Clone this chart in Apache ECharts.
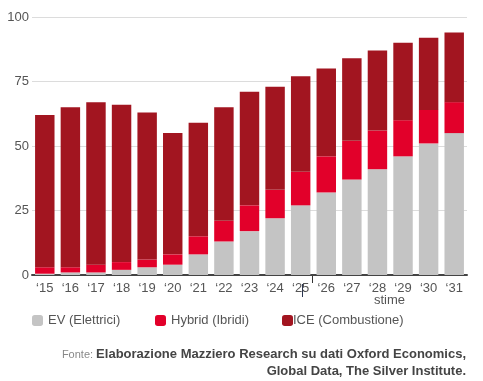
<!DOCTYPE html>
<html>
<head>
<meta charset="utf-8">
<style>html,body{margin:0;padding:0;background:#fff;}#c{width:483px;height:381px;}</style>
<script src="https://cdn.jsdelivr.net/npm/echarts@6/dist/echarts.min.js"></script>
</head>
<body>
<div id="c"></div>
<script>
const categories = ['‘15','‘16','‘17','‘18','‘19','‘20','‘21','‘22','‘23','‘24','‘25','‘26','‘27','‘28','‘29','‘30','‘31'];
const ev     = [0.5, 1, 1, 2, 3, 4, 8, 13, 17, 22, 27, 32, 37, 41, 46, 51, 55];
const hybrid = [2.5, 2, 3, 3, 3, 4, 7, 8, 10, 11, 13, 14, 15, 15, 14, 13, 12];
const ice    = [59, 62, 63, 61, 57, 47, 44, 44, 44, 40, 37, 34, 32, 31, 30, 28, 27];
const yTicks = [0, 25, 50, 75, 100];
const lastActual = '‘25';

const FONT = 'Liberation Sans';
const chart = echarts.init(document.getElementById('c'));
const legendBase = {
  itemWidth: 11, itemHeight: 11, top: 309,
  textStyle: {fontFamily: FONT, fontSize: 13, color: '#555'}
};
chart.setOption({
  animation: false,
  grid: {left: 32, right: 16, top: 17, bottom: 106},
  legend: [
    Object.assign({}, legendBase, {data: ['EV (Elettrici)'], left: 27}),
    Object.assign({}, legendBase, {data: ['Hybrid (Ibridi)'], left: 150}),
    Object.assign({}, legendBase, {data: ['ICE (Combustione)'], left: 277,
      textStyle: {fontFamily: FONT, fontSize: 13, color: '#555', padding: [0, 0, 0, -5]}})
  ],
  xAxis: {
    type: 'category', data: categories,
    axisLine: {lineStyle: {color: '#444', width: 2}},
    axisTick: {show: false},
    axisLabel: {fontFamily: FONT, fontSize: 13, color: '#555', margin: 7}
  },
  yAxis: {
    type: 'value', min: yTicks[0], max: yTicks[yTicks.length - 1], interval: 25,
    axisLine: {show: false}, axisTick: {show: false},
    splitLine: {lineStyle: {color: '#dcdcdc', width: 1}},
    axisLabel: {fontFamily: FONT, fontSize: 13, color: '#555', margin: 3}
  },
  series: [
    {name: 'EV (Elettrici)', type: 'bar', stack: 't', data: ev, barWidth: '76%', itemStyle: {color: '#c4c4c4'}},
    {name: 'Hybrid (Ibridi)', type: 'bar', stack: 't', data: hybrid, itemStyle: {color: '#e2002a'}},
    {name: 'ICE (Combustione)', type: 'bar', stack: 't', data: ice, itemStyle: {color: '#a21520'}}
  ]
});

// separator tick between actual and estimated years, placed via the axis scale
const i = categories.indexOf(lastActual);
const xa = chart.convertToPixel({xAxisIndex: 0}, categories[i]);
const xb = chart.convertToPixel({xAxisIndex: 0}, categories[i + 1]);
const y0 = chart.convertToPixel({yAxisIndex: 0}, 0);
const xs = Math.round((xa + xb) / 2) - 0.5;
const xc = Math.round(xa) + 1.5;
chart.setOption({
  graphic: [
    {type: 'line', shape: {x1: xs, y1: y0, x2: xs, y2: y0 + 8}, style: {stroke: '#333', lineWidth: 1}},
    {type: 'line', shape: {x1: xc, y1: y0 + 9, x2: xc, y2: y0 + 22}, style: {stroke: '#2a3550', lineWidth: 1}},
    {type: 'text', left: 374, top: 294, style: {text: 'stime', fontFamily: FONT, fontSize: 13, fill: '#555'}},
    {type: 'text', right: 17, top: 346, style: {
      text: '{l|Fonte: }{b|Elaborazione Mazziero Research su dati Oxford Economics,}\n{b|Global Data, The Silver Institute.}',
      align: 'right', lineHeight: 17,
      rich: {
        l: {fontFamily: FONT, fontSize: 11, fill: '#888', align: 'right'},
        b: {fontFamily: FONT, fontSize: 13, fontWeight: 'bold', fill: '#444', align: 'right'}
      }
    }}
  ]
});
</script>
</body>
</html>
